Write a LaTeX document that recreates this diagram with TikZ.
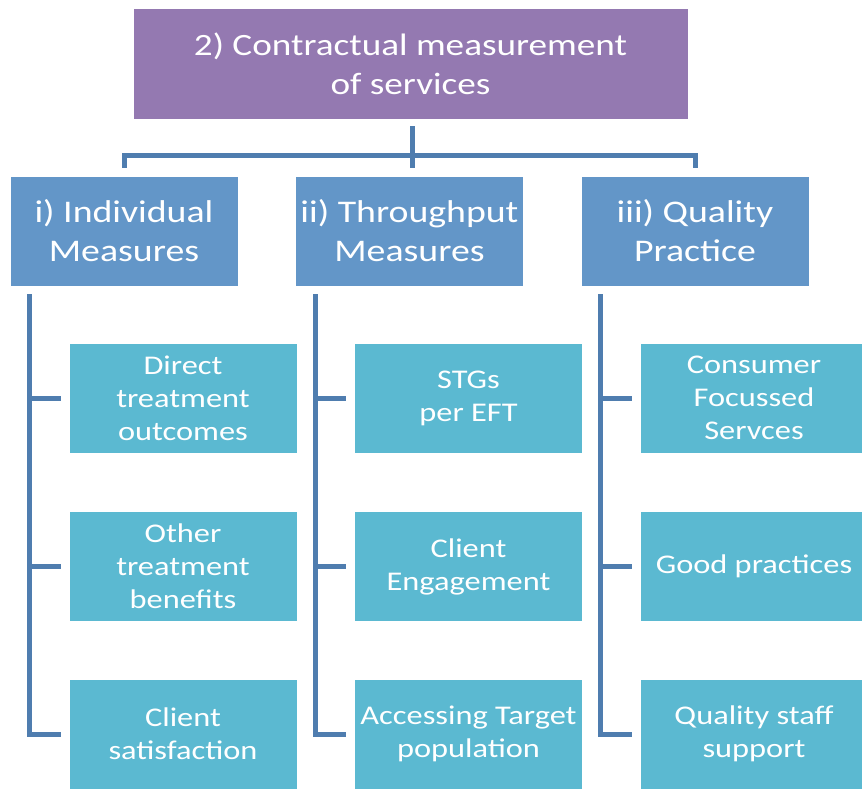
\documentclass[tikz,border=0pt]{standalone}
\usepackage{fontspec}
\setmainfont{Carlito}[FakeStretch=1.2]
\definecolor{topc}{RGB}{148,121,177}
\definecolor{midc}{RGB}{99,150,200}
\definecolor{leafc}{RGB}{91,185,209}
\definecolor{connc}{RGB}{79,125,175}
\begin{document}
\begin{tikzpicture}[x=1pt,y=-1pt,
  box/.style={rectangle,inner sep=0pt,align=center,text=white,draw=white,line width=0.8pt},
  topbox/.style={box,fill=topc,minimum width=555pt,minimum height=111pt,font=\fontsize{31}{39}\selectfont},
  midbox/.style={box,fill=midc,minimum width=228pt,minimum height=110pt,font=\fontsize{31.5}{39}\selectfont},
  leafbox/.style={box,fill=leafc,minimum width=228pt,minimum height=110pt,font=\fontsize{27}{33}\selectfont},
  conn/.style={draw=connc,line width=5pt}]
\useasboundingbox (0,0) rectangle (862,792);
\node[topbox] (top) at (410.5,63.5) {2) Contractual measurement\\of services};
\node[midbox] (a) at (124,231) {i) Individual\\Measures};
\node[midbox] (b) at (409.5,231) {ii) Throughput\\Measures};
\node[midbox] (c) at (695,231) {iii) Quality\\Practice};
\foreach \n/\x in {a/183,b/468.5,c/754}{
  \node[leafbox] (\n1) at (\x,398) {};
  \node[leafbox] (\n2) at (\x,566.5) {};
  \node[leafbox] (\n3) at (\x,734) {};
}
\node[leafbox,fill=none,draw=none] at (a1) {Direct\\treatment\\outcomes};
\node[leafbox,fill=none,draw=none] at (a2) {Other\\treatment\\benefits};
\node[leafbox,fill=none,draw=none] at (a3) {Client\\satisfaction};
\node[leafbox,fill=none,draw=none] at (b1) {STGs\\per EFT};
\node[leafbox,fill=none,draw=none] at (b2) {Client\\Engagement};
\node[leafbox,fill=none,draw=none] at (b3) {Accessing Target\\population};
\node[leafbox,fill=none,draw=none] at (c1) {Consumer\\Focussed\\Servces};
\node[leafbox,fill=none,draw=none] at (c2) {Good practices};
\node[leafbox,fill=none,draw=none] at (c3) {Quality staff\\support};
% top connectors
\coordinate (hub) at ([xshift=1.5pt,yshift=-7pt]top.south);
\draw[conn] (hub) -- ([xshift=2.5pt,yshift=8pt]b.north);
\draw[conn] ([yshift=8pt]a.north) |- ([yshift=-29pt]hub) -| ([yshift=8pt]c.north);
% branch connectors
\foreach \n in {a,b,c}{
  \draw[conn] ([xshift=20pt,yshift=-8pt]\n.south west) |- ([xshift=-8pt]\n3.west);
  \draw[conn] ([xshift=20pt]\n.south west |- \n1.west) -- ([xshift=-8pt]\n1.west);
  \draw[conn] ([xshift=20pt]\n.south west |- \n2.west) -- ([xshift=-8pt]\n2.west);
}
\end{tikzpicture}
\end{document}
